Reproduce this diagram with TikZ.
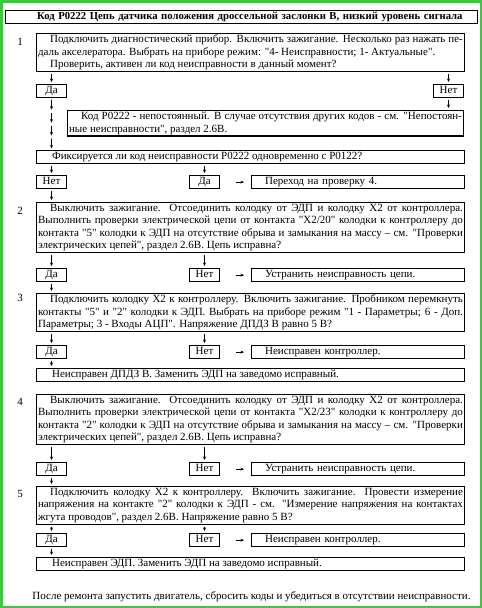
\documentclass[tikz,border=0pt]{standalone}
\usepackage{fontspec}
\setmainfont{Liberation Serif}[Ligatures=TeXOff]
\usetikzlibrary{arrows.meta,calc}
\definecolor{framegreen}{RGB}{70,195,70}
\newcommand{\firstind}{\hspace*{12pt}}

\begin{document}
\begin{tikzpicture}[x=1pt,y=-1pt]
      \tikzstyle{every node}=[font=\fontsize{11}{12.5}\selectfont]
      \tikzstyle{box}=[draw, line width=1.2pt, anchor=north west, inner sep=1.5pt]
      \tikzstyle{wide}=[box, text width=424.8pt, align=justify, minimum height=13pt]
      \tikzstyle{small}=[box, minimum width=29.8pt, minimum height=13pt, text height=7.5pt, text depth=2pt, align=center]
      \tikzstyle{result}=[box, text width=209.8pt, align=left, minimum height=13pt]
      \tikzstyle{arr}=[-{Stealth[length=3.5pt,width=3pt]}, line width=0.6pt, shorten <=2pt, shorten >=2pt]
      \tikzstyle{harr}=[arr, shorten <=16pt, shorten >=7pt]
      \useasboundingbox (0,0) rectangle (482,608);
      \draw[framegreen, line width=2.5pt] (1.25,1.25) rectangle (480.75,606.75);
      \node[box, text width=468.8pt, minimum height=12pt, align=left, font=\fontsize{10.7}{12.5}\selectfont\bfseries] (title) at (5,10)
        {\hspace*{30pt}Код P0222 Цепь датчика положения дроссельной заслонки В, низкий уровень сигнала};
      % step 1
      \node (n1) at (20,42) {1};
      \node[wide] (b1) at (36,33) {\firstind Подключить диагностический прибор. Включить зажигание. Несколько раз нажать пе-\linebreak даль акселератора. Выбрать на приборе режим: "4- Неисправности; 1- Актуальные".\par\firstind Проверить, активен ли код неисправности в данный момент?};
      \node[small] (da1) at (36,84) {Да};
      \node[small] (net1) at (433,84) {Нет};
      \node[box, text width=392.8pt, align=justify] (nepost) at (67,110) {\firstind Код P0222 - непостоянный. В случае отсутствия других кодов - см. "Непостоян-\linebreak ные неисправности", раздел 2.6В.};
      \node[wide] (fix) at (36,150) {\hspace*{14pt}Фиксируется ли код неисправности P0222 одновременно с P0122?};
      \node[small] (net2) at (36,175) {Нет};
      \node[small] (da2) at (189,175) {Да};
      \node[result] (go4) at (251,175) {\firstind Переход на проверку 4.};
      \draw[arr] (b1.south -| da1) -- (da1);
      \draw[arr] (b1.south -| net1) -- (net1);
      \draw[arr] (net1) -- (net1 |- nepost.north);
      \foreach \a/\b in {0/0.25,0.25/0.5,0.5/0.75,0.75/1}
        \draw[arr, shorten <=1.5pt, shorten >=1.5pt] ($(da1.south)!\a!(da1 |- fix.north)$) -- ($(da1.south)!\b!(da1 |- fix.north)$);
      \draw[arr] (fix.south -| net2) -- (net2);
      \draw[arr] (fix.south -| da2) -- (da2);
      \draw[harr] (da2) -- (go4);
      \draw[arr] (net2) -- (net2 |- 0,202);
      % step 2
      \node (n2) at (20,211) {2};
      \node[wide] (b2) at (36,202) {\firstind Выключить зажигание. Отсоединить колодку от ЭДП и колодку X2 от контроллера.\linebreak Выполнить проверки электрической цепи от контакта "X2/20" колодки к контроллеру до\linebreak контакта "5" колодки к ЭДП на отсутствие обрыва и замыкания на массу – см. "Проверки\linebreak электрических цепей", раздел 2.6В. Цепь исправна?};
      \node[small] (da3) at (36,268) {Да};
      \node[small] (net3) at (189,268) {Нет};
      \node[result] (rep2) at (251,268) {\firstind Устранить неисправность цепи.};
      \draw[arr] (b2.south -| da3) -- (da3);
      \draw[arr] (b2.south -| net3) -- (net3);
      \draw[harr] (net3) -- (rep2);
      % step 3
      \node (n3) at (20,298) {3};
      \node[wide] (b3) at (36,293) {\firstind Подключить колодку X2 к контроллеру. Включить зажигание. Пробником перемкнуть\linebreak контакты "5" и "2" колодки к ЭДП. Выбрать на приборе режим "1 - Параметры; 6 - Доп.\linebreak Параметры; 3 - Входы АЦП". Напряжение ДПДЗ В равно 5 В?};
      \node[small] (da4) at (36,345) {Да};
      \node[small] (net4) at (189,345) {Нет};
      \node[result] (ctrl3) at (251,345) {\firstind Неисправен контроллер.};
      \node[wide] (dpdz) at (36,368) {\hspace*{14pt}Неисправен ДПДЗ В. Заменить ЭДП на заведомо исправный.};
      \draw[arr] (da3) -- (da3 |- b3.north);
      \draw[arr] (b3.south -| da4) -- (da4);
      \draw[arr] (b3.south -| net4) -- (net4);
      \draw[harr] (net4) -- (ctrl3);
      \draw[arr] (da4) -- (da4 |- dpdz.north);
      % step 4
      \node (n4) at (20,402) {4};
      \node[wide] (b4) at (36,394) {\firstind Выключить зажигание. Отсоединить колодку от ЭДП и колодку X2 от контроллера.\linebreak Выполнить проверки электрической цепи от контакта "X2/23" колодки к контроллеру до\linebreak контакта "2" колодки к ЭДП на отсутствие обрыва и замыкания на массу – см. "Проверки\linebreak электрических цепей", раздел 2.6В. Цепь исправна?};
      \node[small] (da5) at (36,462) {Да};
      \node[small] (net5) at (189,462) {Нет};
      \node[result] (rep4) at (251,462) {\firstind Устранить неисправность цепи.};
      \draw[arr] (b4.south -| da5) -- (da5);
      \draw[arr] (b4.south -| net5) -- (net5);
      \draw[harr] (net5) -- (rep4);
      % step 5
      \node (n5) at (20,494) {5};
      \node[wide] (b5) at (36,486) {\firstind Подключить колодку X2 к контроллеру. Включить зажигание. Провести измерение\linebreak напряжения на контакте "2" колодки к ЭДП - см. "Измерение напряжения на контактах\linebreak жгута проводов", раздел 2.6В. Напряжение равно 5 В?};
      \node[small] (da6) at (36,533) {Да};
      \node[small] (net6) at (189,533) {Нет};
      \node[result] (ctrl5) at (251,533) {\firstind Неисправен контроллер.};
      \node[wide] (edp) at (36,557) {\hspace*{14pt}Неисправен ЭДП. Заменить ЭДП на заведомо исправный.};
      \draw[arr] (da5) -- (da5 |- b5.north);
      \draw[arr] (b5.south -| da6) -- (da6);
      \draw[arr] (b5.south -| net6) -- (net6);
      \draw[harr] (net6) -- (ctrl5);
      \draw[arr] (da6) -- (da6 |- edp.north);
      \node (after) at (251.5,597) {После ремонта запустить двигатель, сбросить коды и убедиться в отсутствии неисправности.};
\end{tikzpicture}
\end{document}
